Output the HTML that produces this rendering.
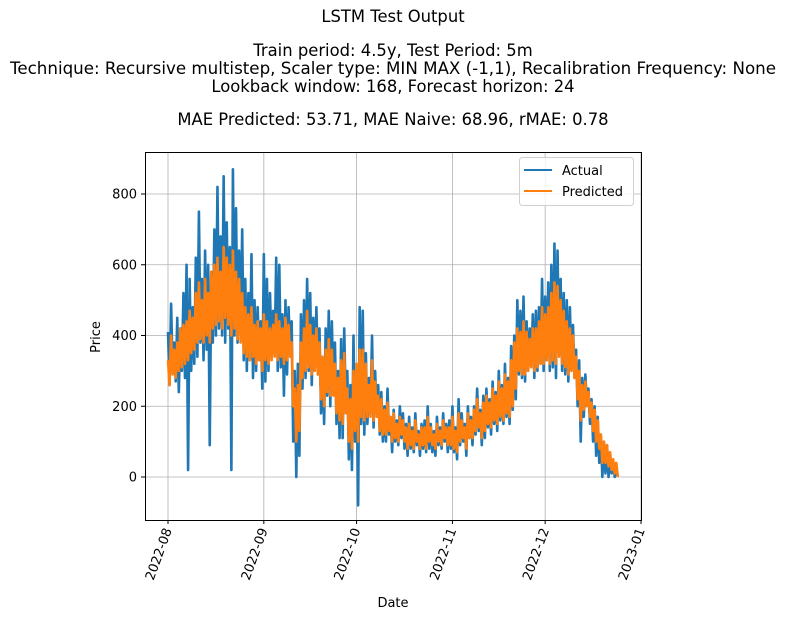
<!DOCTYPE html>
<html><head><meta charset="utf-8"><style>
body{margin:0;background:#fff;}
svg{display:block;font-family:"DejaVu Sans","Liberation Sans",sans-serif;}
</style></head><body>
<svg id="chart" width="786" height="620" viewBox="0 0 786 620" xmlns="http://www.w3.org/2000/svg">
<g font-size="16.4" text-anchor="middle" fill="#000">
<text x="393" y="22">LSTM Test Output</text>
<text x="393" y="56">Train period: 4.5y, Test Period: 5m</text>
<text x="393" y="74" textLength="766" lengthAdjust="spacingAndGlyphs">Technique: Recursive multistep, Scaler type: MIN MAX (-1,1), Recalibration Frequency: None</text>
<text x="393" y="92">Lookback window: 168, Forecast horizon: 24</text>
<text x="393" y="125">MAE Predicted: 53.71, MAE Naive: 68.96, rMAE: 0.78</text>
</g>
<g id="grid"></g>
<g id="series"></g>
<rect x="145.5" y="152.5" width="496" height="368" fill="none" stroke="#000" stroke-width="1"/>
<g id="axes"></g>
<text x="393" y="607" font-size="13" text-anchor="middle">Date</text>
<text x="0" y="0" font-size="13" text-anchor="middle" transform="translate(100,337) rotate(-90)">Price</text>
<g>
<rect x="519.5" y="157.5" width="114" height="48" rx="3" fill="#fff" fill-opacity="0.8" stroke="#d0d0d0"/>
<line x1="524" y1="170" x2="552" y2="170" stroke="#1f77b4" stroke-width="2"/>
<text x="562" y="175" font-size="13">Actual</text>
<line x1="524" y1="191" x2="552" y2="191" stroke="#ff7f0e" stroke-width="2"/>
<text x="562" y="196" font-size="13">Predicted</text>
</g>
</svg>
<script>
const xTickLabels=["2022-08","2022-09","2022-10","2022-11","2022-12","2023-01"];
const xTickDays=[0,31,61,92,122,153];
const yTicks=[0,200,400,600,800];
const actual=[410,260,490,300,380,270,450,240,420,300,520,280,600,20,
560,300,480,320,620,340,750,380,560,330,640,360,600,90,
580,380,700,400,820,420,680,400,850,380,720,420,650,20,
870,400,760,380,640,400,700,330,560,300,520,330,630,280,
500,300,480,330,440,250,630,270,560,300,520,340,470,350,
620,300,600,310,460,230,500,290,480,350,440,100,300,0,
320,60,460,250,500,280,560,300,520,260,450,310,480,290,
420,180,330,150,420,230,470,200,440,250,380,150,300,110,
390,110,420,200,300,50,260,20,400,100,280,-80,480,150,
470,120,350,150,280,180,400,140,300,180,260,120,240,100,
200,100,250,120,170,70,190,100,160,90,200,110,180,80,
150,60,170,80,140,70,180,90,130,60,150,80,160,70,
200,80,150,70,130,60,170,90,140,80,180,100,150,70,
160,80,200,70,140,50,220,90,180,100,150,60,200,110,
170,90,200,120,250,130,190,90,230,110,250,140,220,120,
270,150,240,130,300,160,260,150,320,170,280,150,370,190,
400,220,500,290,470,280,510,270,440,300,420,320,460,280,
470,300,480,320,560,300,510,330,550,300,600,310,660,280,
640,350,560,300,520,290,500,270,480,300,430,280,360,200,
330,100,280,170,290,200,250,150,220,100,200,60,170,40,
120,0,100,10,90,0,60,10,40,0,30,0];
const predicted=[330,260,400,290,360,280,380,300,420,310,430,320,440,330,
470,350,450,360,520,380,550,390,500,380,560,400,520,380,
580,420,600,430,620,440,580,420,650,450,620,430,600,400,
640,420,580,390,560,380,520,350,480,340,460,330,480,340,
430,320,440,330,420,300,460,330,440,320,420,330,430,340,
460,330,440,340,420,320,450,330,430,340,380,200,250,100,
260,130,380,280,420,300,470,310,430,290,400,300,420,290,
380,220,340,200,360,240,390,230,360,230,320,180,280,160,
330,150,350,180,250,100,220,80,300,130,320,100,360,170,
360,160,320,170,260,170,330,160,270,170,230,130,220,120,
190,120,210,130,170,100,180,110,150,100,170,120,160,100,
140,80,150,90,130,80,160,100,120,80,140,90,140,80,
170,100,140,90,120,80,150,100,130,90,160,110,140,90,
140,90,170,80,130,70,180,100,160,110,140,80,180,110,
160,110,190,130,220,140,180,110,210,130,230,150,210,140,
250,160,230,150,270,170,250,160,290,180,270,170,330,200,
380,250,420,300,410,290,440,290,410,300,390,310,420,300,
420,310,440,320,480,320,460,330,480,320,520,330,550,320,
540,340,500,320,470,310,440,290,420,300,400,280,340,220,
300,160,260,190,270,200,240,170,210,130,190,100,160,80,
120,40,100,40,90,30,70,20,50,10,40,0];
const NS="http://www.w3.org/2000/svg";
function xScale(day){return 168+day*(641-168)/153;}
function yScale(v){return 477-v*(477-194)/800;}
const grid=document.getElementById('grid'),axes=document.getElementById('axes'),series=document.getElementById('series');
function mk(tag,attrs,parent){const e=document.createElementNS(NS,tag);for(const k in attrs)e.setAttribute(k,attrs[k]);parent.appendChild(e);return e;}
xTickDays.forEach((d,i)=>{
  const x=xScale(d);
  const g=mk('line',{x1:x,y1:152,x2:x,y2:520,stroke:'#b0b0b0','stroke-width':0.8},grid);
  
  
  const t=mk('line',{x1:x,y1:520,x2:x,y2:524,stroke:'#000'},axes);
  
  
  const l=mk('text',{x:0,y:0,'font-size':13,'text-anchor':'end',transform:`translate(${x+4},${530}) rotate(-70)`},axes);
  l.textContent=xTickLabels[i];
  
  
});
yTicks.forEach(v=>{
  const y=yScale(v);
  const g=mk('line',{x1:145,y1:y,x2:641,y2:y,stroke:'#b0b0b0','stroke-width':0.8},grid);
  
  
  const t=mk('line',{x1:141,y1:y,x2:145,y2:y,stroke:'#000'},axes);
  
  
  const l=mk('text',{x:137,y:y+4.5,'font-size':13,'text-anchor':'end'},axes);
  l.textContent=String(v);
  
  
});
function drawSeries(arr,color,name,w){
  const pts=arr.map((v,i)=>xScale(i*0.5).toFixed(2)+','+yScale(v).toFixed(2)).join(' ');
  const p=mk('polyline',{points:pts,fill:'none',stroke:color,'stroke-width':w,'stroke-linejoin':'round'},series);
  
  
}
drawSeries(actual,'#1f77b4','actual-line',2.6);
drawSeries(predicted,'#ff7f0e','predicted-line',2.6);
</script>
</body></html>
